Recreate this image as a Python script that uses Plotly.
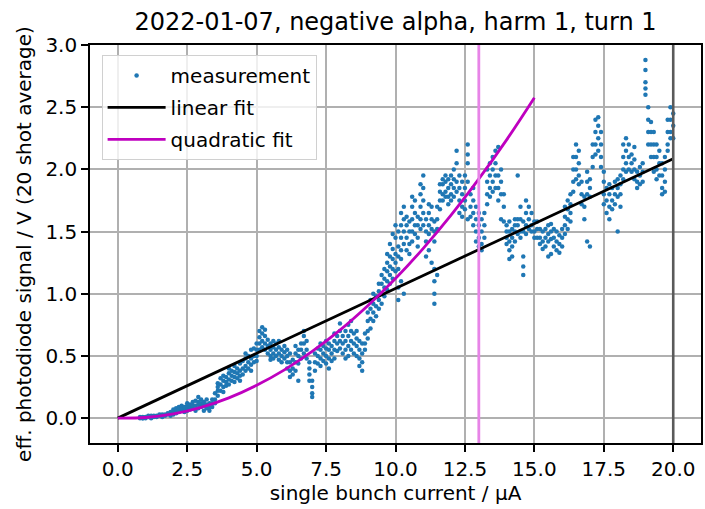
import plotly.graph_objects as go

# ---------------- data ----------------
# measurement: streaks of points, one x (single bunch current / uA) with several y (V)
meas_x_groups = [
    0.8, 0.9, 1.0, 1.1, 1.2, 1.3, 1.4, 1.5, 1.6, 1.7, 1.8, 1.9,
    2.0, 2.1, 2.2, 2.3, 2.4, 2.5, 2.6, 2.7, 2.8, 2.9,
    3.0, 3.1, 3.2, 3.3, 3.4, 3.5, 3.6, 3.7, 3.8, 3.9,
    4.0, 4.1, 4.2, 4.3, 4.4, 4.5, 4.6, 4.7, 4.8, 4.9,
    5.0, 5.1, 5.2, 5.3, 5.4, 5.5, 5.6, 5.7, 5.8, 5.9,
    6.0, 6.1, 6.2, 6.3, 6.4, 6.5, 6.6, 6.7, 6.8, 6.9,
    7.0, 7.1, 7.2, 7.3, 7.4, 7.5, 7.6, 7.7, 7.8, 7.9,
    8.0, 8.1, 8.2, 8.3, 8.4, 8.5, 8.6, 8.7, 8.8, 8.9,
    9.0, 9.1, 9.2, 9.3, 9.4, 9.5, 9.6, 9.7, 9.8, 9.9,
    10.0, 10.1, 10.2, 10.3, 10.4, 10.5, 10.6, 10.7, 10.8, 10.9,
    11.0, 11.1, 11.2, 11.3, 11.4, 11.5, 11.6, 11.7, 11.8, 11.9,
    12.0, 12.1, 12.2, 12.3, 12.4, 12.5, 12.6, 12.7, 12.8, 12.9,
    13.0, 13.1, 13.2, 13.3, 13.4, 13.5, 13.6, 13.7, 13.8, 13.9,
    14.0, 14.1, 14.2, 14.3, 14.4, 14.5, 14.6, 14.7, 14.8, 14.9,
    15.0, 15.1, 15.2, 15.3, 15.4, 15.5, 15.6, 15.7, 15.8, 15.9,
    16.0, 16.1, 16.2, 16.3, 16.4, 16.5, 16.6, 16.7, 16.8, 16.9,
    17.0, 17.1, 17.2, 17.3, 17.4, 17.5, 17.6, 17.7, 17.8, 17.9,
    18.0, 18.1, 18.2, 18.3, 18.4, 18.5, 18.6, 18.7, 18.8, 18.9,
    19.0, 19.1, 19.2, 19.3, 19.4, 19.5, 19.6, 19.7, 19.8, 19.9,
    20.0,
]
meas_y_groups = [
    [0.0, 0.01], [0.0, 0.01, 0.0], [0.01, 0.0], [0.01, 0.02], [0.0, 0.02],
    [0.01, 0.02], [0.02, 0.01], [0.02, 0.03], [0.02, 0.01, 0.03], [0.03, 0.02],
    [0.03, 0.04], [0.04, 0.02, 0.05],
    [0.05, 0.03, 0.07], [0.06, 0.04, 0.08], [0.07, 0.05, 0.09], [0.06, 0.08, 0.1],
    [0.07, 0.09, 0.05], [0.08, 0.1, 0.06, 0.12], [0.09, 0.07, 0.11], [0.08, 0.1, 0.13],
    [0.1, 0.06, 0.14], [0.11, 0.08, 0.17, 0.13],
    [0.12, 0.09, 0.15], [0.1, 0.06, 0.13], [0.11, 0.08, 0.15], [0.09, 0.12, 0.06],
    [0.12, 0.15, 0.09], [0.15, 0.2, 0.12], [0.22, 0.28, 0.18, 0.25], [0.27, 0.32, 0.22],
    [0.3, 0.25, 0.34, 0.21], [0.29, 0.33, 0.26],
    [0.31, 0.36, 0.27, 0.4], [0.34, 0.3, 0.38], [0.33, 0.37, 0.29, 0.42], [0.36, 0.4, 0.32],
    [0.38, 0.34, 0.44, 0.3], [0.4, 0.46, 0.35], [0.42, 0.38, 0.48, 0.52], [0.45, 0.4, 0.5],
    [0.48, 0.43, 0.55, 0.38], [0.5, 0.45, 0.56],
    [0.55, 0.5, 0.6, 0.46], [0.6, 0.65, 0.55, 0.7], [0.62, 0.68, 0.73, 0.57], [0.6, 0.66, 0.55, 0.71],
    [0.58, 0.63, 0.52], [0.55, 0.6, 0.5, 0.47], [0.52, 0.57, 0.62, 0.48], [0.55, 0.5, 0.6],
    [0.52, 0.57, 0.47, 0.62], [0.5, 0.55, 0.45],
    [0.53, 0.48, 0.58], [0.5, 0.45, 0.55, 0.4], [0.45, 0.38, 0.52, 0.33], [0.4, 0.47, 0.35],
    [0.45, 0.52, 0.38, 0.58], [0.5, 0.44, 0.55, 0.3], [0.55, 0.6, 0.48], [0.6, 0.66, 0.52, 0.7],
    [0.55, 0.48, 0.62], [0.45, 0.35, 0.3, 0.4],
    [0.25, 0.2, 0.3, 0.17], [0.45, 0.52, 0.38], [0.5, 0.56, 0.44], [0.48, 0.55, 0.42, 0.6],
    [0.52, 0.46, 0.58], [0.5, 0.56, 0.44, 0.62], [0.55, 0.48, 0.6, 0.4], [0.52, 0.58, 0.46],
    [0.55, 0.62, 0.48, 0.68], [0.6, 0.66, 0.54],
    [0.62, 0.7, 0.56, 0.76], [0.6, 0.66, 0.52], [0.55, 0.62, 0.48, 0.7], [0.58, 0.66, 0.5, 0.75],
    [0.62, 0.7, 0.55, 0.78], [0.6, 0.68, 0.52], [0.58, 0.64, 0.5, 0.7], [0.55, 0.62, 0.48, 0.42],
    [0.52, 0.45, 0.38, 0.6], [0.6, 0.68, 0.55],
    [0.7, 0.78, 0.64, 0.85], [0.8, 0.88, 0.72, 0.95], [0.85, 0.92, 0.78, 1.0], [0.9, 0.98, 0.82],
    [0.95, 1.02, 0.88, 1.08], [1.0, 1.08, 0.92, 1.15], [1.05, 1.12, 0.98, 1.2], [1.1, 1.18, 1.03, 1.25, 1.32],
    [1.15, 1.22, 1.08, 1.3, 1.4], [1.2, 1.28, 1.12, 1.36, 1.48],
    [1.25, 1.32, 1.18, 1.45, 1.55], [1.2, 1.3, 1.38, 1.5, 1.05, 0.95], [1.35, 1.45, 1.55, 1.65, 1.28, 1.1],
    [1.5, 1.6, 1.7, 1.4, 1.0], [1.45, 1.55, 1.62, 1.35], [1.4, 1.5, 1.58, 1.32],
    [1.5, 1.6, 1.7, 1.78, 1.42], [1.55, 1.65, 1.75, 1.48], [1.45, 1.55, 1.38, 1.62],
    [1.6, 1.7, 1.8, 1.88, 1.52],
    [1.65, 1.75, 1.85, 1.95, 1.55], [1.5, 1.6, 1.42, 1.3], [1.55, 1.65, 1.72, 1.48, 1.35],
    [1.6, 1.7, 1.52, 1.25], [1.5, 1.58, 1.42, 1.2, 1.1, 1.0, 0.92], [1.6, 1.7, 1.52, 1.15],
    [1.75, 1.82, 1.68, 1.88], [1.8, 1.88, 1.75, 1.92], [1.82, 1.9, 1.78, 1.95], [1.78, 1.85, 1.92, 1.72],
    [1.8, 1.88, 1.95, 1.75], [1.85, 1.92, 2.0, 1.78], [1.9, 2.05, 2.15, 1.82], [1.75, 1.85, 1.65, 1.95],
    [1.7, 1.8, 1.62, 1.9], [1.75, 1.85, 1.95, 1.68], [1.9, 2.12, 2.2, 2.05, 1.6], [1.7, 1.8, 1.62],
    [1.65, 1.75, 1.55, 1.85], [1.5, 1.6, 1.42, 1.7],
    [1.45, 1.55, 1.38, 1.65], [1.5, 1.4, 1.6, 1.35], [1.55, 1.45, 1.65], [1.8, 1.9, 2.0, 1.72],
    [1.85, 1.95, 2.05, 1.78], [1.9, 2.0, 2.1, 1.82], [1.95, 2.05, 2.15, 1.85], [1.85, 1.95, 2.18, 1.75],
    [1.8, 1.9, 2.0, 1.6], [1.7, 1.8, 1.58],
    [1.5, 1.45, 1.4, 1.55], [1.5, 1.42, 1.35, 1.58, 1.28], [1.45, 1.38, 1.52, 1.3], [1.5, 1.55, 1.42, 1.6],
    [1.55, 1.6, 1.48, 1.95], [1.5, 1.6, 1.7, 1.45], [1.3, 1.22, 1.15, 1.5, 1.58], [1.55, 1.65, 1.75, 1.48],
    [1.6, 1.7, 1.52], [1.55, 1.65, 1.5],
    [1.5, 1.58, 1.45], [1.45, 1.52, 1.58], [1.45, 1.4, 1.52], [1.42, 1.5, 1.36],
    [1.45, 1.52, 1.38], [1.48, 1.55, 1.42, 1.3], [1.5, 1.56, 1.44, 1.32], [1.45, 1.52, 1.38],
    [1.42, 1.5, 1.35], [1.4, 1.47, 1.33],
    [1.45, 1.52, 1.38], [1.55, 1.62, 1.7, 1.48], [1.6, 1.68, 1.75, 1.52], [1.65, 1.72, 1.8, 1.58],
    [1.9, 2.0, 2.1, 1.82], [2.0, 2.1, 2.2, 1.92], [1.95, 2.05, 2.15, 1.88], [1.8, 1.9, 1.72],
    [1.7, 1.6, 1.78], [1.8, 1.9, 1.98, 1.42],
    [1.85, 1.92, 1.78, 1.38], [2.1, 2.2, 2.02], [2.2, 2.3, 2.4, 2.12], [2.25, 2.35, 2.42, 2.15],
    [2.1, 2.2, 2.3, 2.02], [1.9, 1.8, 1.98, 1.72], [1.75, 1.85, 1.65], [1.7, 1.8, 1.6, 1.88],
    [1.75, 1.85, 1.68], [1.8, 1.9, 1.72],
    [1.85, 1.92, 1.78, 1.5], [1.8, 1.88, 1.7, 1.95], [2.0, 2.1, 2.2, 1.92], [2.05, 2.15, 2.25, 1.98],
    [2.1, 2.2, 2.0], [2.05, 2.12, 1.98], [2.0, 2.08, 1.92, 2.18], [1.9, 1.98, 1.85],
    [1.88, 1.95, 2.02], [1.9, 1.98, 2.05],
    [2.6, 2.7, 2.8, 2.88, 2.65], [2.3, 2.4, 2.5, 2.2], [2.2, 2.3, 2.38, 2.1], [2.1, 2.2, 2.3, 1.98],
    [2.0, 2.1, 2.2, 1.92], [1.95, 2.05, 2.15], [1.85, 1.95, 2.05, 1.8], [1.9, 2.0, 2.1, 1.82],
    [2.2, 2.3, 2.4, 2.15], [2.3, 2.4, 2.5, 2.25],
    [2.25, 2.35, 2.45],
]

# fit curves
linear_fit_x = [0.0, 20.0]
linear_fit_y = [0.0, 2.085]
quad_fit_x = [0, 1, 2, 3, 4, 5, 6, 7, 8, 9, 10, 11, 12, 13, 14, 15]
quad_fit_y = [0.0, 0.005, 0.034, 0.087, 0.163, 0.264, 0.388, 0.536, 0.707,
              0.903, 1.122, 1.365, 1.632, 1.923, 2.237, 2.576]

# vertical marker lines
vline_grey_x = 20.0
vline_violet_x = 13.0

x_ticks = [0.0, 2.5, 5.0, 7.5, 10.0, 12.5, 15.0, 17.5, 20.0]
y_ticks = [0.0, 0.5, 1.0, 1.5, 2.0, 2.5, 3.0]

# ---------------- flatten measurement ----------------
meas_x, meas_y = [], []
for gx, gys in zip(meas_x_groups, meas_y_groups):
    for gy in gys:
        meas_x.append(gx)
        meas_y.append(gy)

FONT = "DejaVu Sans"

fig = go.Figure()

fig.add_trace(go.Scatter(
    x=meas_x, y=meas_y, mode="markers", name="measurement",
    marker=dict(size=4.5, color="#1f77b4", line=dict(width=0)),
    legendgroup="a",
))
fig.add_trace(go.Scatter(
    x=linear_fit_x, y=linear_fit_y, mode="lines", name="linear fit",
    line=dict(color="black", width=2.8), legendgroup="b",
))
fig.add_trace(go.Scatter(
    x=quad_fit_x, y=quad_fit_y, mode="lines", name="quadratic fit",
    line=dict(color="#bf00bf", width=2.8, shape="spline"), legendgroup="c",
))

# vertical lines (drawn over the data, as in the reference)
fig.add_shape(type="line", x0=vline_violet_x, x1=vline_violet_x, y0=0, y1=1,
              xref="x", yref="paper", layer="above",
              line=dict(color="#e784e7", width=2.8))
fig.add_shape(type="line", x0=vline_grey_x, x1=vline_grey_x, y0=0, y1=1,
              xref="x", yref="paper", layer="above",
              line=dict(color="#5a5a5a", width=2.6))

axis_common = dict(
    showline=True, linecolor="black", linewidth=1.6, mirror=True,
    ticks="outside", ticklen=7, tickwidth=1.6, tickcolor="black",
    showgrid=True, gridcolor="#b0b0b0", gridwidth=1.5,
    zeroline=False,
    tickfont=dict(family=FONT, size=20, color="black"),
)

fig.update_layout(
    width=705, height=509,
    margin=dict(l=90, r=2, t=45, b=66),
    paper_bgcolor="white", plot_bgcolor="white",
    font=dict(family=FONT, size=20, color="black"),
    title=dict(text="2022-01-07, negative alpha, harm 1, turn 1",
               x=0.5, xref="paper", xanchor="center",
               y=1 - 22 / 509, yref="container", yanchor="middle",
               font=dict(family=FONT, size=24, color="black")),
    xaxis=dict(range=[-1.0, 21.0], tickvals=x_ticks,
               ticktext=[f"{v:.1f}" for v in x_ticks],
               title=dict(text="single bunch current / µA", standoff=6,
                          font=dict(family=FONT, size=20)),
               **axis_common),
    yaxis=dict(range=[-0.2, 3.0], tickvals=y_ticks,
               ticktext=[f"{v:.1f}" for v in y_ticks],
               title=dict(text="eff. photodiode signal / V (20 shot average)", standoff=8,
                          font=dict(family=FONT, size=20)),
               **axis_common),
    showlegend=True,
    legend=dict(x=0.019, y=0.975, xanchor="left", yanchor="top",
                bgcolor="rgba(255,255,255,0.8)", bordercolor="#d0d0d0", borderwidth=1,
                font=dict(family=FONT, size=20, color="black"),
                traceorder="grouped", tracegroupgap=3, itemwidth=58),
)

fig.write_html("out.html")
